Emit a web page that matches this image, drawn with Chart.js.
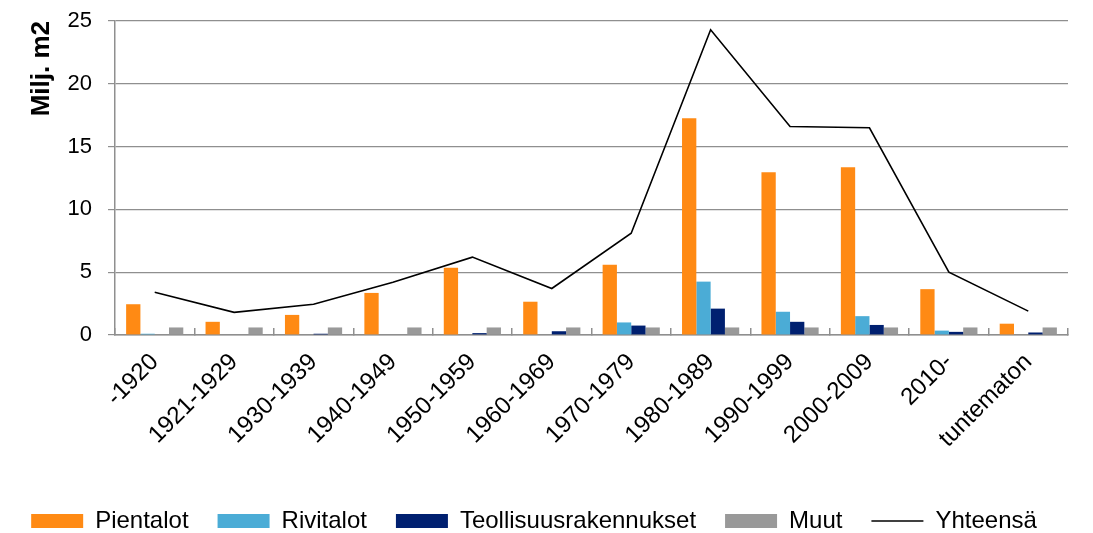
<!DOCTYPE html>
<html>
<head>
<meta charset="utf-8">
<script src="https://cdn.jsdelivr.net/npm/chart.js@4/dist/chart.umd.min.js"></script>
<style>
	html,body{margin:0;padding:0;background:#fff}
	#wrap{width:1093px;height:533px}
</style>
</head>
<body>
<div id="wrap"><canvas id="myChart"></canvas></div>
<script>
"use strict"
// kaudet
const periods = ['-1920', '1921-1929', '1930-1939', '1940-1949', '1950-1959', '1960-1969', '1970-1979', '1980-1989', '1990-1999', '2000-2009', '2010-', 'tuntematon']
const pientalot = [2.45, 1.05, 1.6, 3.35, 5.35, 2.65, 5.6, 17.25, 12.95, 13.35, 3.65, 0.9]
const rivitalot = [0.1, 0, 0, 0, 0.05, 0, 1.0, 4.25, 1.85, 1.5, 0.35, 0.05]
const teollisuus = [0.05, 0, 0.1, 0.05, 0.15, 0.3, 0.75, 2.1, 1.05, 0.8, 0.25, 0.2]
const muut = [0.6, 0.6, 0.6, 0.6, 0.6, 0.6, 0.6, 0.6, 0.6, 0.6, 0.6, 0.6]
const yhteensa = [3.4, 1.8, 2.45, 4.2, 6.2, 3.7, 8.1, 24.3, 16.6, 16.5, 5.0, 1.9]
const yTicks = [0, 5, 10, 15, 20, 25]

const font = 'Liberation Sans, Arial, sans-serif'
const axisGrey = '#8f8f8f'

let bar = (label, data, color) => ({
	type: 'bar',
	label: label,
	data: data,
	backgroundColor: color,
	borderWidth: 0,
	pointStyle: 'rect',
	order: 1
})

const ctx = document.getElementById('myChart')
new Chart(ctx, {
	type: 'bar',
	data: {
		labels: periods,
		datasets: [
			bar('Pientalot', pientalot, '#FF8A14'),
			bar('Rivitalot', rivitalot, '#4BACD6'),
			bar('Teollisuusrakennukset', teollisuus, '#002070'),
			bar('Muut', muut, '#999999'),
			{
				type: 'line',
				label: 'Yhteensä',
				data: yhteensa,
				borderColor: '#000000',
				backgroundColor: '#000000',
				borderWidth: 1.6,
				pointRadius: 0,
				pointStyle: 'line',
				tension: 0,
				order: 0
			}
		]
	},
	options: {
		responsive: true,
		maintainAspectRatio: false,
		animation: false,
		layout: { padding: { top: 21, right: 25, bottom: -10, left: 0 } },
		datasets: { bar: { categoryPercentage: 0.72, barPercentage: 1 } },
		plugins: {
			tooltip: { enabled: false },
			legend: {
				position: 'bottom',
				labels: {
					usePointStyle: true,
					pointStyleWidth: 52,
					boxHeight: 14,
					padding: 29,
					color: '#000',
					sort: (a, b) => a.datasetIndex - b.datasetIndex,
					font: { family: font, size: 24 }
				}
			}
		},
		scales: {
			x: {
				offset: true,
				afterFit: s => { s.height = 145 },
				border: { color: axisGrey, width: 1.5 },
				grid: { offset: true, drawOnChartArea: false, tickLength: -7, color: axisGrey, lineWidth: 1.5 },
				ticks: {
					autoSkip: false,
					maxRotation: 45,
					minRotation: 45,
					padding: 20,
					color: '#000',
					font: { family: font, size: 24 }
				}
			},
			y: {
				min: 0,
				max: 25,
				afterFit: s => {
					s.width = 115
					s.paddingTop = 0
					s.paddingBottom = 0
				},
				afterBuildTicks: s => { s.ticks = yTicks.map(v => ({ value: v })) },
				border: { color: axisGrey, width: 1.5 },
				grid: { color: axisGrey, lineWidth: 1.2, tickLength: 7 },
				ticks: {
					padding: 16,
					color: '#000',
					font: { family: font, size: 22 }
				},
				title: {
					display: true,
					text: 'Milj. m2',
					align: 'end',
					color: '#000',
					padding: { top: 26, bottom: 4 },
					font: { family: font, size: 26, weight: 'bold' }
				}
			}
		}
	}
})
</script>
</body>
</html>
